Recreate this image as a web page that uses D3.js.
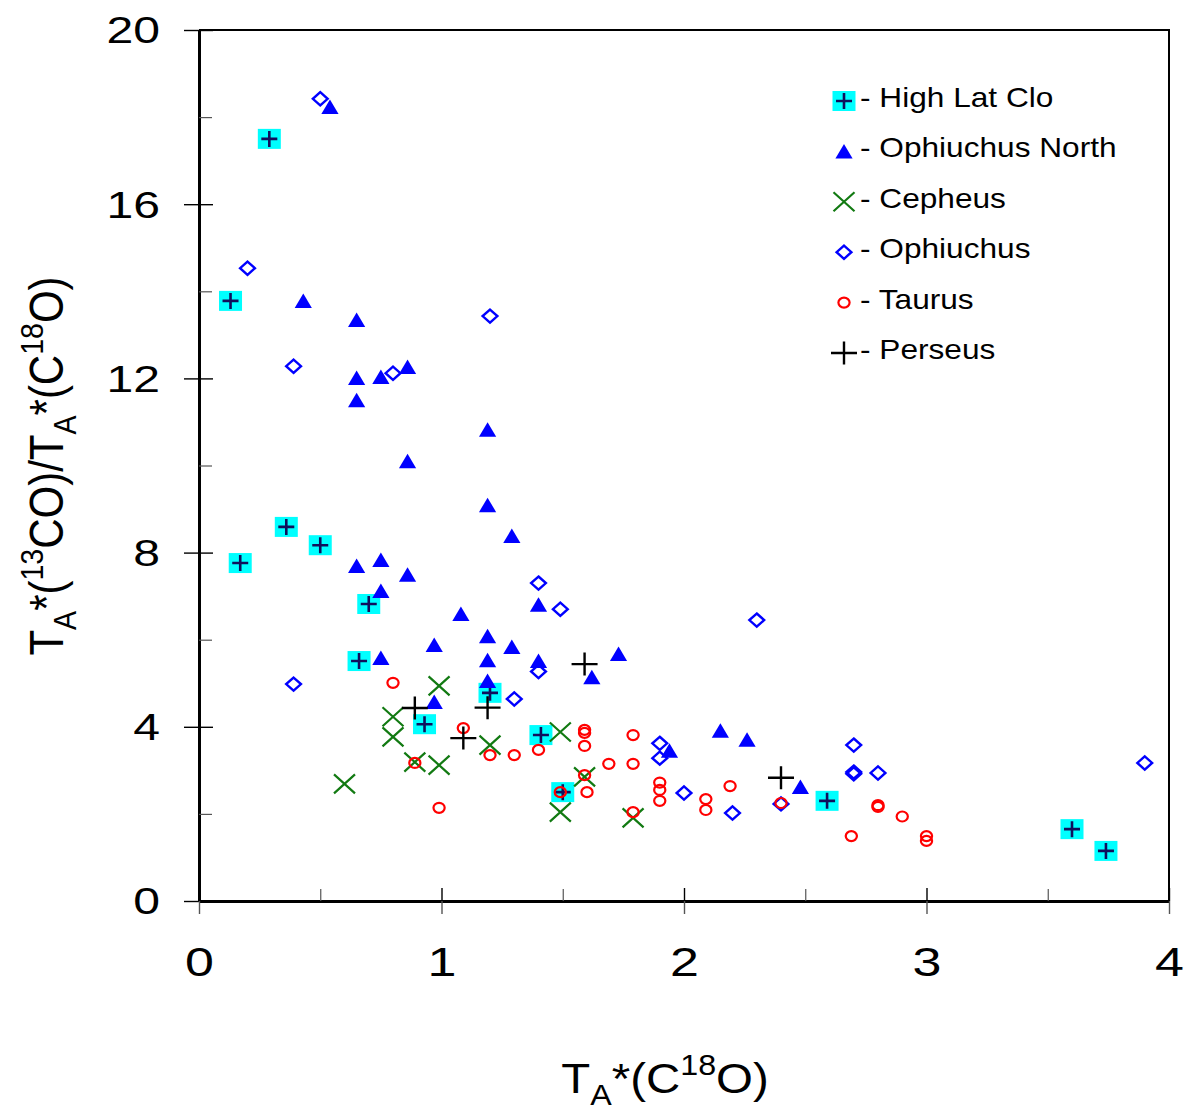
<!DOCTYPE html>
<html>
<head>
<meta charset="utf-8">
<script src="https://cdn.jsdelivr.net/npm/d3@7/dist/d3.min.js"></script>
<style>
  html, body { margin: 0; padding: 0; background: #fff; }
  svg { display: block; }
  text { font-family: "Liberation Sans", Arial, Helvetica, sans-serif; fill: #000; }
</style>
</head>
<body>
<svg id="chart" width="1189" height="1111"></svg>
<script>
// Tick values
const xMajorTicks = [0, 1, 2, 3, 4];
const xMinorTicks = [0.5, 1.5, 2.5, 3.5];
const yMajorTicks = [0, 4, 8, 12, 16, 20];
const yMinorTicks = [2, 6, 10, 14, 18];

// Series: T_A*(C18O) and ratio T_A*(13CO)/T_A*(C18O)
const highLatX = [0.29, 0.13, 0.17, 0.36, 0.50, 0.70, 0.66, 1.20, 0.93, 1.41, 1.50, 2.59, 3.60, 3.74];
const highLatY = [17.50, 13.78, 7.76, 8.59, 8.17, 6.82, 5.51, 4.78, 4.06, 3.81, 2.50, 2.30, 1.65, 1.15];

const ophNorthX = [0.54, 0.43, 0.65, 0.65, 0.65, 0.75, 0.86, 0.86, 1.19, 1.19, 1.29, 0.65, 0.75, 0.75, 0.86, 1.08,
                   1.40, 1.19, 1.29, 0.97, 0.75, 1.19, 1.40, 1.19, 0.97, 1.73, 1.62, 1.94, 2.15, 2.26, 2.48];
const ophNorthY = [18.23, 13.78, 13.34, 12.01, 11.50, 12.03, 12.26, 10.10, 10.82, 9.09, 8.38, 7.69, 7.83, 7.12, 7.49, 6.59,
                   6.80, 6.08, 5.83, 5.88, 5.58, 5.53, 5.51, 5.05, 4.57, 5.67, 5.14, 3.45, 3.91, 3.70, 2.62];

const cepheusX = [0.60, 0.80, 0.80, 0.99, 0.89, 0.99, 1.20, 1.49, 1.59, 1.49, 1.79];
const cepheusY = [2.69, 4.23, 3.77, 4.94, 3.19, 3.12, 3.58, 3.88, 2.85, 2.04, 1.91];

const ophiuchusX = [0.50, 0.20, 1.20, 0.39, 0.80, 1.40, 1.49, 2.30, 0.39, 1.30, 1.40, 1.90, 1.90, 2.00, 2.20, 2.40,
                    2.70, 2.70, 2.70, 2.80, 3.90];
const ophiuchusY = [18.42, 14.53, 13.43, 12.28, 12.12, 7.30, 6.70, 6.45, 4.98, 4.64, 5.27, 3.62, 3.28, 2.48, 2.02, 2.23,
                    3.58, 2.96, 2.92, 2.94, 3.17];

const taurusX = [0.80, 1.09, 1.20, 1.30, 1.40, 0.89, 0.99, 1.49, 1.59, 1.59, 1.59, 1.59, 1.60, 1.69, 1.79, 1.79, 1.79,
                 1.90, 1.90, 1.90, 2.09, 2.09, 2.19, 2.40, 2.69, 2.80, 2.80, 2.90, 3.00, 3.00];
const taurusY = [5.01, 3.97, 3.35, 3.35, 3.47, 3.17, 2.14, 2.50, 3.93, 3.86, 3.56, 2.89, 2.50, 3.15, 3.81, 3.15, 2.04,
                 2.72, 2.55, 2.30, 2.34, 2.09, 2.64, 2.25, 1.49, 2.20, 2.16, 1.94, 1.49, 1.38];

const perseusX = [0.89, 1.09, 1.19, 1.59, 2.40];
const perseusY = [4.43, 3.74, 4.44, 5.44, 2.83];

const seriesNames = ["High Lat Clo", "Ophiuchus North", "Cepheus", "Ophiuchus", "Taurus", "Perseus"];
const seriesMarkers = ["hlc", "tri", "cross", "diamond", "circle", "plus"];
const seriesX = [highLatX, ophNorthX, cepheusX, ophiuchusX, taurusX, perseusX];
const seriesY = [highLatY, ophNorthY, cepheusY, ophiuchusY, taurusY, perseusY];

const svg = d3.select("#chart");
const stretch = 1.13;      // horizontal stretch of titles and legend text
const tickStretch = 1.3;   // horizontal stretch of tick labels

const x = d3.scaleLinear().domain([0, 4]).range([199, 1169]);
const y = d3.scaleLinear().domain([0, 20]).range([901, 30]);

svg.append("rect").attr("width", 1189).attr("height", 1111).attr("fill", "#fff");

// Frame: top and right
svg.append("path")
  .attr("d", `M${x(0)},${y(20)}H${x(4)}V${y(0)}`)
  .attr("fill", "none").attr("stroke", "#000").attr("stroke-width", 2);

// Y axis: outward major ticks with labels
const yAxisOut = svg.append("g").attr("transform", `translate(${x(0)},0)`)
  .call(d3.axisLeft(y).tickValues(yMajorTicks).tickFormat(d3.format("d"))
    .tickSizeInner(15).tickSizeOuter(0).tickPadding(0));
yAxisOut.select(".domain").attr("stroke-width", 3);
yAxisOut.selectAll(".tick line").attr("stroke-width", 1.4);
yAxisOut.selectAll(".tick text")
  .attr("x", -39 / tickStretch).attr("dy", "0.35em")
  .attr("transform", `scale(${tickStretch},1)`)
  .style("font-size", "37px");

// Y axis: inward major and minor ticks
svg.append("g").attr("transform", `translate(${x(0)},0)`)
  .call(d3.axisRight(y).tickValues(yMajorTicks).tickSizeInner(14).tickSizeOuter(0).tickFormat(""))
  .call(g => g.select(".domain").remove())
  .call(g => g.selectAll(".tick line").attr("stroke-width", 1.4));
svg.append("g").attr("transform", `translate(${x(0)},0)`)
  .call(d3.axisRight(y).tickValues(yMinorTicks).tickSizeInner(13).tickSizeOuter(0).tickFormat(""))
  .call(g => g.select(".domain").remove())
  .call(g => g.selectAll(".tick line").attr("stroke", "#555").attr("stroke-width", 1.2));

// X axis: outward major ticks with labels
const xAxisOut = svg.append("g").attr("transform", `translate(0,${y(0)})`)
  .call(d3.axisBottom(x).tickValues(xMajorTicks).tickFormat(d3.format("d"))
    .tickSizeInner(13).tickSizeOuter(0).tickPadding(0));
xAxisOut.select(".domain").attr("stroke-width", 3);
xAxisOut.selectAll(".tick line").attr("stroke", "#555").attr("stroke-width", 1.4);
xAxisOut.selectAll(".tick text")
  .attr("y", 47).attr("dy", "0.71em")
  .attr("transform", `scale(${tickStretch},1)`)
  .style("font-size", "40px");

// X axis: inward major and minor ticks
svg.append("g").attr("transform", `translate(0,${y(0)})`)
  .call(d3.axisTop(x).tickValues(xMajorTicks.slice(1)).tickSizeInner(13).tickSizeOuter(0).tickFormat(""))
  .call(g => g.select(".domain").remove())
  .call(g => g.selectAll(".tick line").attr("stroke-width", 1.4));
svg.append("g").attr("transform", `translate(0,${y(0)})`)
  .call(d3.axisTop(x).tickValues(xMinorTicks).tickSizeInner(12).tickSizeOuter(0).tickFormat(""))
  .call(g => g.select(".domain").remove())
  .call(g => g.selectAll(".tick line").attr("stroke", "#555").attr("stroke-width", 1.2));

// Marker glyphs
function drawMarker(g, type) {
  if (type === "hlc") {
    g.append("rect").attr("x", -11.5).attr("y", -10).attr("width", 23).attr("height", 20).attr("fill", "#00ffff");
    g.append("path").attr("d", "M-8,0H8M0,-8V8").attr("stroke", "#10105c").attr("stroke-width", 2.6).attr("fill", "none");
  } else if (type === "tri") {
    g.append("path").attr("d", "M0,-7.5L8.6,7L-8.6,7Z").attr("fill", "#0000ff");
  } else if (type === "cross") {
    g.append("path").attr("d", "M-10.5,-9.5L10.5,9.5M-10.5,9.5L10.5,-9.5")
      .attr("stroke", "#127a12").attr("stroke-width", 2.2).attr("fill", "none");
  } else if (type === "diamond") {
    g.append("path").attr("d", "M0,-6.6L7.4,0L0,6.6L-7.4,0Z")
      .attr("stroke", "#0000ff").attr("stroke-width", 2.4).attr("fill", "none");
  } else if (type === "circle") {
    g.append("ellipse").attr("rx", 5.6).attr("ry", 5.0)
      .attr("stroke", "#ff0000").attr("stroke-width", 2.2).attr("fill", "none");
  } else if (type === "plus") {
    g.append("path").attr("d", "M-13,0H13M0,-11.5V11.5")
      .attr("stroke", "#000").attr("stroke-width", 2.4).attr("fill", "none");
  }
}

// Data points
const plot = svg.append("g");
seriesNames.forEach((name, i) => {
  const pts = seriesX[i].map((v, j) => [v, seriesY[i][j]]);
  plot.append("g").attr("class", "series")
    .selectAll("g").data(pts).join("g")
    .attr("transform", d => `translate(${x(d[0])},${y(d[1])})`)
    .each(function () { drawMarker(d3.select(this), seriesMarkers[i]); });
});

// Legend
const legendRowY = d3.scaleLinear().domain([0, 5]).range([101, 353]);
const legend = svg.append("g");
seriesNames.forEach((name, i) => {
  const row = legend.append("g");
  drawMarker(row.append("g").attr("transform", `translate(844,${legendRowY(i)})`), seriesMarkers[i]);
  row.append("text")
    .attr("transform", `translate(860,${legendRowY(i) + 6})` + ` scale(${stretch},1)`)
    .style("font-size", "28px")
    .text("- " + name);
});

// Rich text with sub/superscripts
function richText(sel, parts, size) {
  let shift = 0;
  parts.forEach(p => {
    const small = p.sub || p.sup;
    const target = p.sub ? 0.28 * size : (p.sup ? -0.42 * size : 0);
    sel.append("tspan")
      .attr("dy", target - shift)
      .style("font-size", (small ? 0.68 * size : size) + "px")
      .text(p.t);
    shift = target;
  });
}

const titleSize = 42;
const yTitle = svg.append("text")
  .attr("transform", `translate(63,466) scale(${stretch},1) rotate(-90)`)
  .attr("text-anchor", "middle");
richText(yTitle, [
  { t: "T" }, { t: "A", sub: true }, { t: "*(" }, { t: "13", sup: true }, { t: "CO)/T" },
  { t: "A", sub: true }, { t: "*(C" }, { t: "18", sup: true }, { t: "O)" }
], titleSize);

const xTitle = svg.append("text")
  .attr("transform", `translate(665,1093) scale(${stretch},1)`)
  .attr("text-anchor", "middle");
richText(xTitle, [
  { t: "T" }, { t: "A", sub: true }, { t: "*(C" }, { t: "18", sup: true }, { t: "O)" }
], titleSize);
</script>
</body>
</html>
